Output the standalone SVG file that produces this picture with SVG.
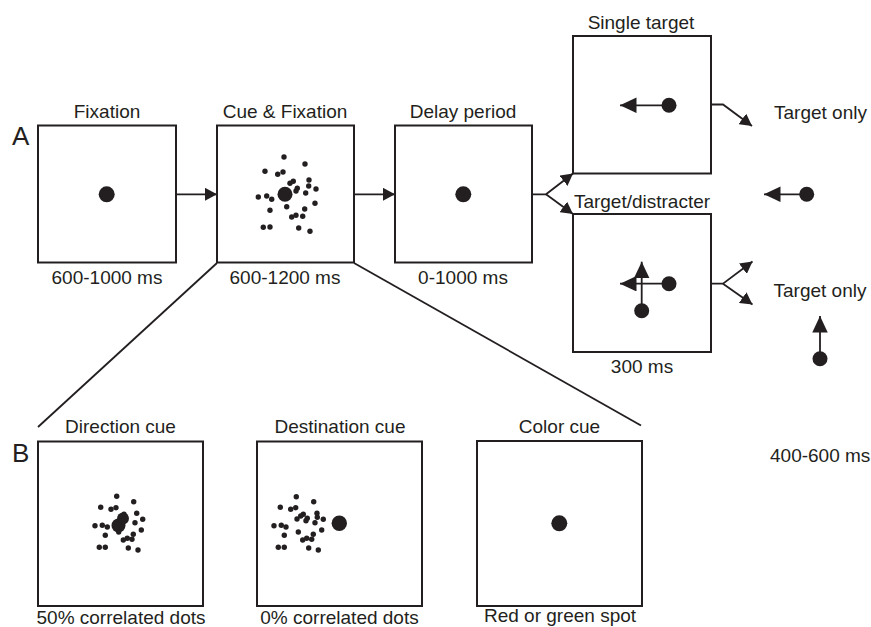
<svg xmlns="http://www.w3.org/2000/svg" width="871" height="627" viewBox="0 0 871 627">
  <style>
    text { font-family: "Liberation Sans", Arial, sans-serif; font-size: 19px; fill: #231f20; }
    .mid { text-anchor: middle; }
    .panel { font-size: 26px; }
    .box { fill: #ffffff; stroke: #231f20; stroke-width: 2; }
    .line { fill: none; stroke: #231f20; stroke-width: 1.8; }
    .dot { fill: #231f20; }
  </style>
  <defs>
    <marker id="head" markerUnits="userSpaceOnUse" markerWidth="13" markerHeight="13" refX="12" refY="6.5" orient="auto">
      <path d="M0,0 L12,6.5 L0,13 z" fill="#231f20"/>
    </marker>
    <marker id="bigHead" markerUnits="userSpaceOnUse" markerWidth="17" markerHeight="16" refX="16.5" refY="7.75" orient="auto">
      <path d="M0,0 L16.5,7.75 L0,15.5 z" fill="#231f20"/>
    </marker>
  </defs>

  <rect width="871" height="627" fill="#ffffff"/>

  <!-- panel letters -->
  <text class="panel" x="12" y="145">A</text>
  <text class="panel" x="12" y="462">B</text>

  <!-- connectors -->
  <g id="connectors">
    <path class="line" d="M176,194.3 H217" marker-end="url(#head)"/>
    <path class="line" d="M354,194.3 H395" marker-end="url(#head)"/>
    <path class="line" d="M532,194.3 H546 L573,173.5" marker-end="url(#head)"/>
    <path class="line" d="M546,194.3 L573,214" marker-end="url(#head)"/>
    <path class="line" d="M711,104.5 H723 L752,126" marker-end="url(#head)"/>
    <path class="line" d="M711,283.7 H723 L752.5,261.5" marker-end="url(#head)"/>
    <path class="line" d="M723,283.7 L752.5,304.5" marker-end="url(#head)"/>
    <!-- zoom lines from the cue screen to the cue variants -->
    <path class="line" d="M217,263 L38,427"/>
    <path class="line" d="M354,263 L641,425.5"/>
  </g>

  <!-- A: trial sequence -->
  <g id="fixation">
    <text class="mid" x="107" y="118">Fixation</text>
    <rect class="box" x="38" y="125.5" width="138" height="137"/>
    <circle class="dot" cx="106.7" cy="194.3" r="8"/>
    <text class="mid" x="107" y="284">600-1000 ms</text>
  </g>

  <g id="cue-fixation">
    <text class="mid" x="285" y="118">Cue &amp; Fixation</text>
    <rect class="box" x="217" y="125.5" width="137" height="137"/>
    <circle class="dot" cx="285" cy="194.3" r="7.5"/>
    <g class="dot">
      <circle cx="284" cy="157" r="2.7"/><circle cx="305" cy="164" r="2.7"/>
      <circle cx="265" cy="171.3" r="2.7"/><circle cx="277.7" cy="174.3" r="2.7"/>
      <circle cx="283" cy="172" r="2.7"/><circle cx="290" cy="183.3" r="2.7"/>
      <circle cx="293.3" cy="181.3" r="2.7"/><circle cx="309" cy="180" r="2.7"/>
      <circle cx="308.7" cy="186" r="2.7"/><circle cx="316" cy="189" r="2.7"/>
      <circle cx="297.3" cy="188.3" r="2.7"/><circle cx="296" cy="191" r="2.7"/>
      <circle cx="305.7" cy="193" r="2.7"/><circle cx="258.3" cy="197" r="2.7"/>
      <circle cx="266.7" cy="196" r="2.7"/><circle cx="271.7" cy="199.3" r="2.7"/>
      <circle cx="315" cy="203.3" r="2.7"/><circle cx="286.7" cy="206.7" r="2.7"/>
      <circle cx="270" cy="210.3" r="2.7"/><circle cx="304.7" cy="209" r="2.7"/>
      <circle cx="291.7" cy="217" r="2.7"/><circle cx="296" cy="215.3" r="2.7"/>
      <circle cx="302.7" cy="216.3" r="2.7"/><circle cx="263.3" cy="227.3" r="2.7"/>
      <circle cx="270" cy="227" r="2.7"/><circle cx="298.7" cy="228" r="2.7"/>
      <circle cx="310" cy="231.3" r="2.7"/>
    </g>
    <text class="mid" x="285" y="283.5">600-1200 ms</text>
  </g>

  <g id="delay-period">
    <text class="mid" x="463" y="118">Delay period</text>
    <rect class="box" x="395" y="125.5" width="137" height="137"/>
    <circle class="dot" cx="463.3" cy="194.3" r="8"/>
    <text class="mid" x="463" y="283.5">0-1000 ms</text>
  </g>

  <g id="single-target">
    <text class="mid" x="641" y="28.5">Single target</text>
    <rect class="box" x="573" y="36" width="138" height="137.5"/>
    <path class="line" d="M669,105.3 H620" marker-end="url(#bigHead)"/>
    <circle class="dot" cx="669" cy="105.3" r="7.5"/>
  </g>

  <g id="target-distracter">
    <text class="mid" x="642" y="207.5">Target/distracter</text>
    <rect class="box" x="573" y="214" width="138" height="138"/>
    <path class="line" d="M669,283.7 H620" marker-end="url(#bigHead)"/>
    <path class="line" d="M641.7,310.7 V261.7" marker-end="url(#bigHead)"/>
    <circle class="dot" cx="669" cy="283.7" r="7.5"/>
    <circle class="dot" cx="641.7" cy="310.7" r="7.5"/>
    <text class="mid" x="642" y="373">300 ms</text>
  </g>

  <g id="outcome-single">
    <text x="774" y="119.3">Target only</text>
  </g>

  <g id="saccade-left">
    <path class="line" d="M806.7,194.3 H764" marker-end="url(#bigHead)"/>
    <circle class="dot" cx="806.7" cy="194.3" r="7.5"/>
  </g>

  <g id="outcome-distracter">
    <text x="773.5" y="297">Target only</text>
  </g>

  <g id="saccade-up">
    <path class="line" d="M820,358.7 V316" marker-end="url(#bigHead)"/>
    <circle class="dot" cx="820" cy="358.7" r="7.5"/>
  </g>

  <g id="cue-duration">
    <text x="770" y="462.3">400-600 ms</text>
  </g>

  <!-- B: cue variants -->
  <g id="direction-cue">
    <text class="mid" x="120.5" y="432.5">Direction cue</text>
    <rect class="box" x="38" y="441.5" width="165" height="164.5"/>
    <circle class="dot" cx="118.5" cy="525.5" r="7"/>
    <circle class="dot" cx="123" cy="518.5" r="6"/>
    <g class="dot">
      <circle cx="116.7" cy="496.3" r="2.7"/><circle cx="133.7" cy="501.7" r="2.7"/>
      <circle cx="100.7" cy="507.3" r="2.7"/><circle cx="111" cy="509.3" r="2.7"/>
      <circle cx="116" cy="507.7" r="2.7"/><circle cx="124" cy="514.3" r="2.7"/>
      <circle cx="136.7" cy="513.3" r="2.7"/><circle cx="142.7" cy="519.3" r="2.7"/>
      <circle cx="135" cy="522.7" r="2.7"/><circle cx="95" cy="525.7" r="2.7"/>
      <circle cx="102.3" cy="525.3" r="2.7"/><circle cx="107.3" cy="527" r="2.7"/>
      <circle cx="141.3" cy="530" r="2.7"/><circle cx="105.3" cy="535.3" r="2.7"/>
      <circle cx="118.7" cy="532" r="2.7"/><circle cx="123.3" cy="540" r="2.7"/>
      <circle cx="127.3" cy="538.3" r="2.7"/><circle cx="133.3" cy="534.3" r="2.7"/>
      <circle cx="132" cy="539.3" r="2.7"/><circle cx="99.3" cy="547.3" r="2.7"/>
      <circle cx="105.3" cy="547.3" r="2.7"/><circle cx="128.3" cy="548" r="2.7"/>
      <circle cx="138" cy="550" r="2.7"/>
    </g>
    <text class="mid" x="121" y="624.3">50% correlated dots</text>
  </g>

  <g id="destination-cue">
    <text class="mid" x="340" y="432.5">Destination cue</text>
    <rect class="box" x="257" y="441.5" width="165" height="164.5"/>
    <circle class="dot" cx="339.3" cy="523.3" r="7.7"/>
    <g class="dot">
      <circle cx="296.3" cy="496.7" r="2.7"/><circle cx="313.7" cy="501.7" r="2.7"/>
      <circle cx="280.3" cy="507.3" r="2.7"/><circle cx="290.7" cy="509.3" r="2.7"/>
      <circle cx="295.7" cy="507.7" r="2.7"/><circle cx="303.3" cy="514.3" r="2.7"/>
      <circle cx="300.7" cy="516" r="2.7"/><circle cx="317" cy="513.3" r="2.7"/>
      <circle cx="323.3" cy="519.3" r="2.7"/><circle cx="315" cy="522.7" r="2.7"/>
      <circle cx="307.3" cy="518.3" r="2.7"/><circle cx="306" cy="520.7" r="2.7"/>
      <circle cx="297" cy="519" r="2.7"/><circle cx="274" cy="525.7" r="2.7"/>
      <circle cx="281.3" cy="525.3" r="2.7"/><circle cx="286" cy="527" r="2.7"/>
      <circle cx="321.7" cy="530" r="2.7"/><circle cx="284.3" cy="535.3" r="2.7"/>
      <circle cx="298.3" cy="532" r="2.7"/><circle cx="302.7" cy="540" r="2.7"/>
      <circle cx="306.7" cy="538.3" r="2.7"/><circle cx="313.3" cy="534.3" r="2.7"/>
      <circle cx="311.7" cy="539.3" r="2.7"/><circle cx="278.3" cy="547.3" r="2.7"/>
      <circle cx="284.3" cy="547.3" r="2.7"/><circle cx="308.7" cy="548" r="2.7"/>
      <circle cx="318.3" cy="550" r="2.7"/><circle cx="317.3" cy="517.3" r="2.7"/>
    </g>
    <text class="mid" x="339.5" y="624.3">0% correlated dots</text>
  </g>

  <g id="color-cue">
    <text class="mid" x="559.5" y="432.5">Color cue</text>
    <rect class="box" x="477" y="441" width="165" height="165"/>
    <circle class="dot" cx="559.3" cy="523.3" r="8"/>
    <text class="mid" x="560" y="622">Red or green spot</text>
  </g>
</svg>
